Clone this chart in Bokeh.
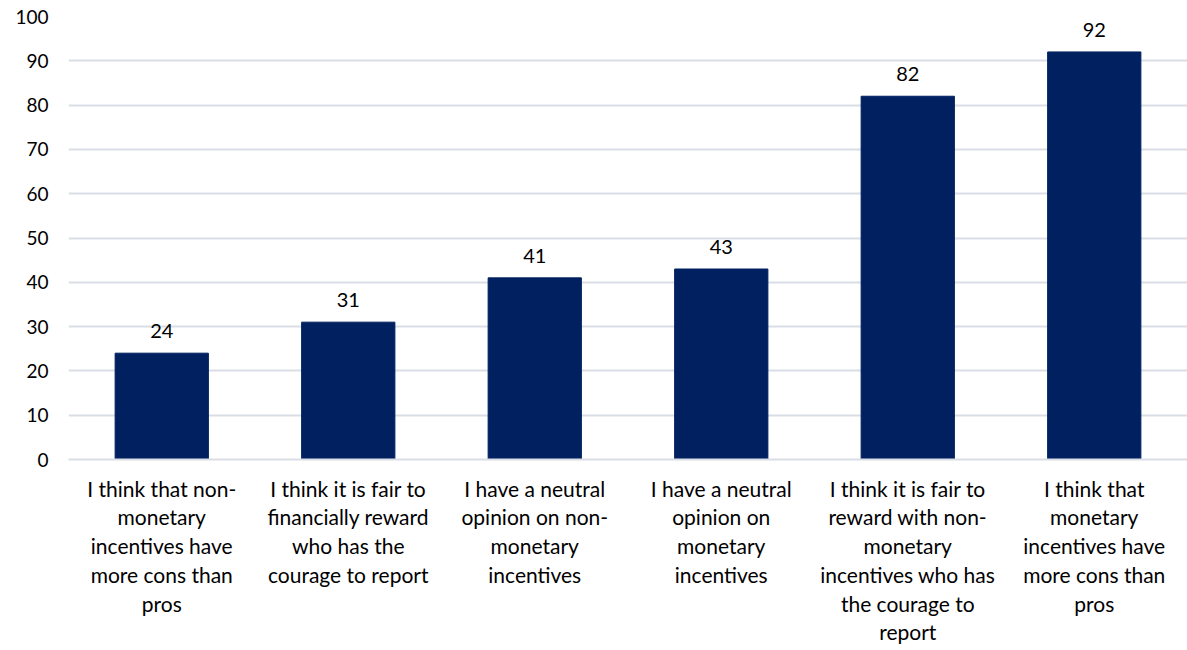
from bokeh.plotting import figure
from bokeh.models import Range1d, FactorRange, ColumnDataSource, SingleIntervalTicker, LabelSet
from bokeh.core.properties import value
from bokeh.embed import file_html
from bokeh.resources import INLINE

categories = [
    "I think that non-\nmonetary\nincentives have\nmore cons than\npros",
    "I think it is fair to\nfinancially reward\nwho has the\ncourage to report",
    "I have a neutral\nopinion on non-\nmonetary\nincentives",
    "I have a neutral\nopinion on\nmonetary\nincentives",
    "I think it is fair to\nreward with non-\nmonetary\nincentives who has\nthe courage to\nreport",
    "I think that\nmonetary\nincentives have\nmore cons than\npros",
]
values = [24, 31, 41, 43, 82, 92]

FONT = "Lato"

src = ColumnDataSource(dict(x=categories, top=values, label=[str(v) for v in values]))

p = figure(
    x_range=FactorRange(*categories, range_padding=0),
    y_range=Range1d(0, 100),
    width=1187, height=650,
    min_border_left=68, min_border_right=0, min_border_top=16, min_border_bottom=191,
    output_backend="svg", toolbar_location=None,
)
p.vbar(x="x", top="top", width=0.5, source=src, color="#002060")
p.add_layout(LabelSet(x="x", y="top", text="label", source=src, text_align="center",
                      text_baseline="middle", y_offset=22, text_font=value(FONT),
                      text_font_size="20px", text_color="#000000"))

p.outline_line_color = None
p.background_fill_color = "white"
p.border_fill_color = "white"

p.yaxis.ticker = SingleIntervalTicker(interval=10)
p.yaxis.axis_line_color = None
p.yaxis.major_tick_line_color = None
p.yaxis.minor_tick_line_color = None
p.yaxis.major_label_text_font = FONT
p.yaxis.major_label_text_font_size = "19px"
p.yaxis.major_label_text_color = "#000000"
p.yaxis.major_label_standoff = 14

p.xaxis.axis_line_color = "#d9dde6"
p.xaxis.axis_line_width = 2
p.xaxis.major_tick_line_color = None
p.xaxis.minor_tick_line_color = None
p.xaxis.major_label_text_font = FONT
p.xaxis.major_label_text_font_size = "21px"
p.xaxis.major_label_text_color = "#000000"
p.xaxis.major_label_text_line_height = 1.15
p.xaxis.major_label_standoff = 10

p.xgrid.grid_line_color = None
p.ygrid.grid_line_color = "#d9dde6"
p.ygrid.grid_line_width = 2

open("out.html", "w").write(file_html(p, INLINE))
